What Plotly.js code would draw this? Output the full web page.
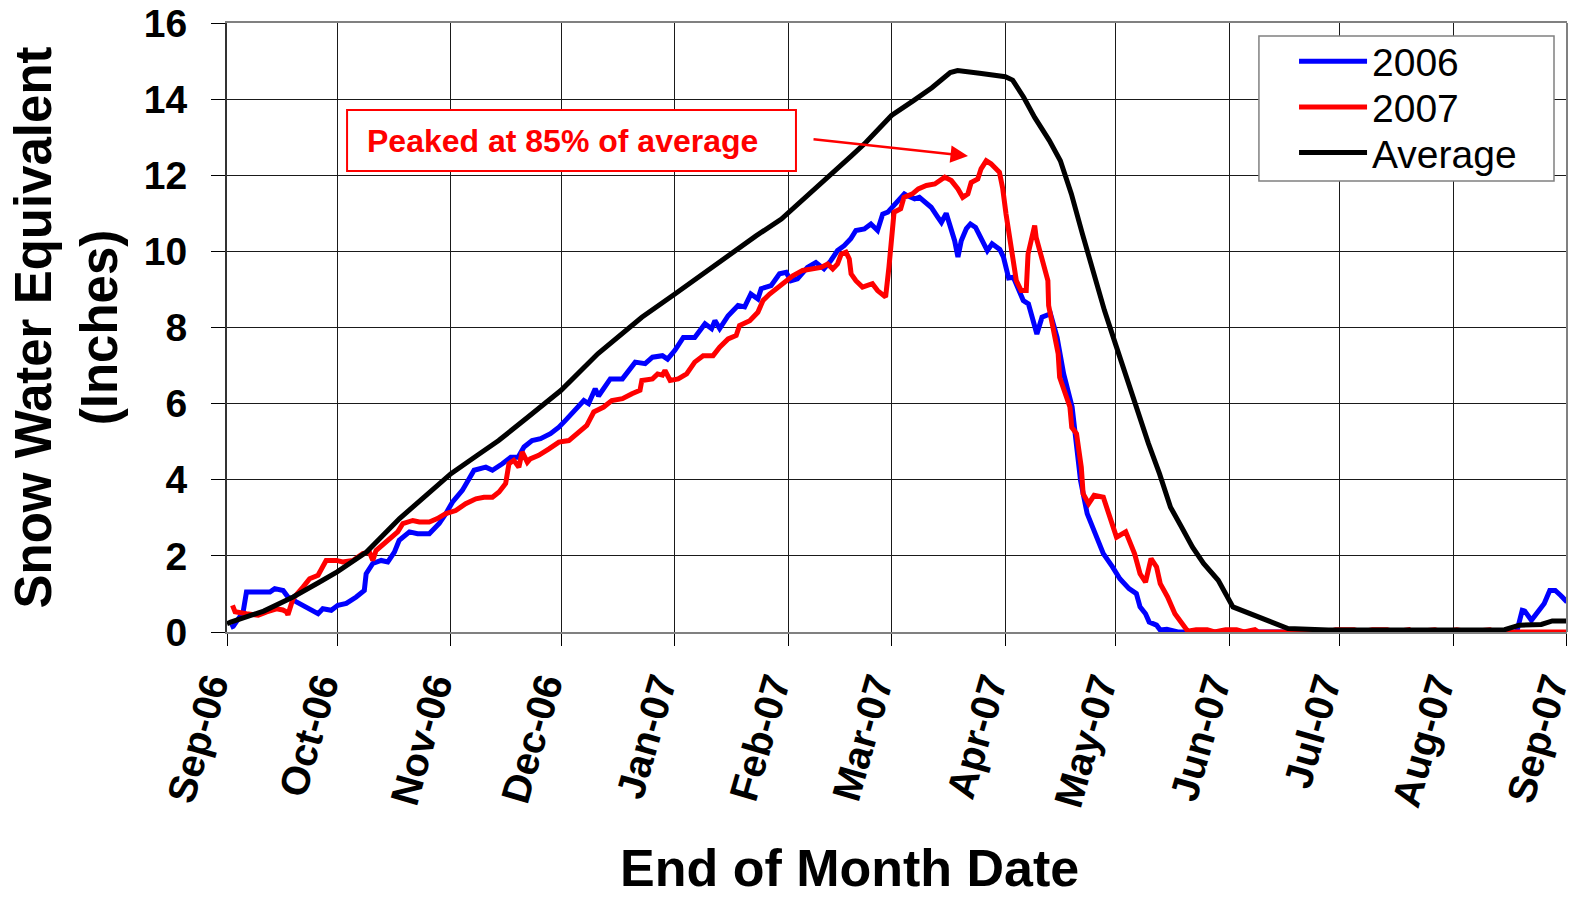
<!DOCTYPE html>
<html>
<head>
<meta charset="utf-8">
<script src="https://cdn.plot.ly/plotly-3.0.1.min.js"></script>
<style>html,body{margin:0;padding:0;background:#fff;}#chart{width:1576px;height:901px;}</style>
</head>
<body>
<div id="chart"></div>
<script>
// Season starts 1 Sep 2006; x values are days since that date.
const seasonStart = '2006-09-01';
const seasonEnd = '2007-09-01';

const avgDays = [0,1,10,18,25,30,38,47,54,61,68,74,82,91,101,113,122,130,137,144,151,158,165,170,174,181,187,192,197,199,205,212,214,217,220,224,227,230,233,236,239,242,245,248,251,254,257,260,263,266,270,274,280,286,289,300,320,340,348,352,358,361,365];
const avgVals = [0.22,0.26,0.55,0.92,1.3,1.58,2.1,2.98,3.57,4.16,4.63,5.03,5.65,6.35,7.31,8.27,8.88,9.44,9.93,10.4,10.85,11.45,12.03,12.5,12.86,13.57,13.96,14.3,14.7,14.75,14.68,14.59,14.5,14.05,13.52,12.91,12.38,11.51,10.46,9.41,8.45,7.57,6.69,5.82,4.95,4.16,3.28,2.76,2.23,1.8,1.36,0.66,0.44,0.22,0.09,0.05,0.05,0.05,0.06,0.18,0.2,0.29,0.29];

const y2006Days = [1,1.7,4.4,5.3,11.7,13,15.3,16.6,18.9,21.6,24.8,26.1,28.4,30.2,32.5,35.2,37.4,37.9,39.7,42,43.8,45.6,46.9,49.7,51.9,55.1,57.8,59.6,61.4,64.1,67.3,70.5,72.3,75,77.3,79.3,80.9,83.1,85.4,88.1,90.4,92.2,94.9,97.2,98.5,100.3,101.2,104.4,107.7,109.8,111.2,113.9,115.9,118.6,120,122,124.3,127.4,130.2,132,132.9,134.2,136.5,139.2,141,142.7,144.6,145.5,148.2,150.5,152.3,153.6,155.4,158.1,160.4,162.6,164.5,166.3,168.1,169.9,171.3,173.6,175.4,177.2,178.6,180,180.9,182.2,183.6,184.5,185.4,187.3,188.6,190.4,191.8,193.6,194.6,195.9,197.3,198.2,199.1,200,201.4,202.5,203.9,205.7,207.1,208.4,210.5,211.5,212.9,214.2,216.9,218.3,220.6,222,224.3,226.1,227.9,230.2,231.6,232.5,234.3,236.8,238.7,241.2,243.2,245.7,247.7,248.7,250.2,251.2,253.2,254.2,256,259,351.3,352.8,353.5,355.3,357.3,358.8,360.3,361.8,363.3,365];
const y2006Vals = [0.12,0.15,0.53,1.05,1.05,1.14,1.09,0.92,0.79,0.66,0.48,0.61,0.57,0.7,0.75,0.92,1.09,1.53,1.8,1.88,1.84,2.1,2.41,2.63,2.58,2.58,2.85,3.11,3.41,3.72,4.25,4.33,4.25,4.42,4.59,4.59,4.86,5.03,5.08,5.21,5.38,5.56,5.82,6.08,6.0,6.39,6.2,6.65,6.65,6.9,7.09,7.05,7.22,7.26,7.17,7.4,7.74,7.74,8.1,7.97,8.18,7.97,8.31,8.58,8.54,8.88,8.75,9.02,9.1,9.41,9.45,9.23,9.28,9.58,9.71,9.54,9.76,10.02,10.15,10.33,10.55,10.59,10.72,10.55,10.98,11.03,11.12,11.29,11.42,11.51,11.46,11.38,11.42,11.25,11.16,10.9,10.76,11.0,10.6,10.28,9.85,10.28,10.6,10.72,10.63,10.28,10.02,10.2,10.05,9.85,9.3,9.32,8.71,8.62,7.83,8.27,8.36,7.74,6.78,5.91,4.59,3.98,3.11,2.49,2.06,1.71,1.4,1.14,1.01,0.66,0.48,0.26,0.18,0.05,0.07,0,0,0.57,0.55,0.31,0.57,0.75,1.09,1.09,0.96,0.79];

const y2007Days = [1.5,2.2,5.3,8.5,10.8,13.5,15.2,16.2,16.6,18,20.7,22.5,24.8,26.1,27,29.8,31.5,34.3,37,38.8,39.7,40.6,43.3,46.5,47.9,50.6,52.4,55.1,57.3,59.6,62.3,65,67.8,70,72.3,74.1,75.9,76.8,78.1,79.5,80.4,81.8,82.6,84.9,87.7,90.4,93.1,95.8,98,99.9,102.6,104.8,107.7,110.3,112.5,113,115.9,117.3,118.6,119.3,120.7,122.9,125.2,127.4,129.7,132.4,134.2,136.5,138.7,139.6,142.4,144.6,146,147.8,151.4,154.1,156.8,159.5,161.8,163.6,165,166.3,167.3,168.6,169.5,170,171.3,173.1,175.8,177.2,179.4,180.3,181.2,181.7,183.5,184.4,186.7,188.3,190.5,192.8,195.5,197.3,199.1,200.4,201.8,202.7,204.5,205.4,206.8,208.1,210.4,211.3,212.2,213.6,215,216.3,217.7,218.2,219,220,220.4,223.6,223.8,225,226.4,226.8,229.6,230.1,231.4,232.7,233.2,234.7,236.2,238.7,241.2,242.3,244.8,247.2,248.7,250.2,251.7,253.2,254.2,256.2,258.2,260.2,261.7,264,267,269,272,275,277,280,281,300,302,307,309,312,316,318,322,323,329,331,335,338,344,345.5,365];
const y2007Vals = [0.7,0.53,0.48,0.44,0.53,0.61,0.58,0.53,0.45,0.88,1.18,1.4,1.49,1.71,1.88,1.88,1.84,1.88,2.06,2.1,1.88,2.14,2.36,2.63,2.85,2.93,2.89,2.89,2.98,3.11,3.19,3.37,3.5,3.54,3.54,3.68,3.9,4.42,4.51,4.33,4.73,4.46,4.55,4.64,4.81,4.99,5.03,5.25,5.43,5.78,5.91,6.08,6.13,6.26,6.35,6.61,6.65,6.78,6.75,6.87,6.61,6.65,6.78,7.09,7.26,7.26,7.48,7.7,7.79,8.05,8.18,8.4,8.71,8.88,9.15,9.36,9.5,9.54,9.58,9.67,9.54,9.67,9.93,9.98,9.8,9.41,9.23,9.06,9.15,8.97,8.8,9.58,10.46,11.03,11.12,11.42,11.51,11.64,11.73,11.77,11.95,11.86,11.64,11.42,11.51,11.81,11.9,12.17,12.38,12.3,12.08,11.65,10.98,10.11,9.23,8.97,8.97,9.93,10.24,10.68,10.37,9.23,8.58,8.01,7.31,6.69,5.91,5.38,5.21,4.33,3.63,3.37,3.59,3.54,2.76,2.49,2.63,2.06,1.53,1.31,1.93,1.71,1.27,0.92,0.48,0.22,0.02,0.06,0.06,0,0.06,0.06,0,0.06,0,0,0.06,0.06,0,0.06,0.06,0,0.06,0,0.06,0,0.06,0,0.06,0,0];

const seriesNames = ['2006', '2007', 'Average'];
const monthTicks = ['2006-09-01','2006-10-01','2006-11-01','2006-12-01','2007-01-01','2007-02-01','2007-03-01','2007-04-01','2007-05-01','2007-06-01','2007-07-01','2007-08-01','2007-08-31 22:00'];
const monthLabels = ['Sep-06','Oct-06','Nov-06','Dec-06','Jan-07','Feb-07','Mar-07','Apr-07','May-07','Jun-07','Jul-07','Aug-07','Sep-07'];
const yTicks = [0,2,4,6,8,10,12,14,16];
const xTitle = 'End of Month Date';
const yTitle = 'Snow Water Equivalent<br>(Inches)';
const noteText = 'Peaked at 85% of average';

function toDate(d) {
  const t = Date.UTC(2006, 8, 1) + d * 86400000;
  return new Date(t).toISOString().slice(0, 19).replace('T', ' ');
}

const FONT = 'Liberation Sans, Arial, Helvetica, sans-serif';

const traces = [
  {x: y2006Days.map(toDate), y: y2006Vals, name: seriesNames[0], type: 'scatter', mode: 'lines',
   line: {color: '#0000FF', width: 5}, legend: 'legend'},
  {x: y2007Days.map(toDate), y: y2007Vals, name: seriesNames[1], type: 'scatter', mode: 'lines',
   line: {color: '#FF0000', width: 5}, legend: 'legend2'},
  {x: avgDays.map(toDate), y: avgVals, name: seriesNames[2], type: 'scatter', mode: 'lines',
   line: {color: '#000000', width: 5}, legend: 'legend3'}
];

function legendAt(yc) {
  return {x: 0.7963, y: yc, xanchor: 'left', yanchor: 'middle',
    bgcolor: 'rgba(0,0,0,0)', borderwidth: 0,
    font: {family: FONT, size: 39, color: '#000'}, itemwidth: 68};
}

const layout = {
  width: 1576, height: 901,
  margin: {l: 227, r: 9, t: 23, b: 269},
  paper_bgcolor: '#ffffff', plot_bgcolor: '#ffffff',
  font: {family: FONT, color: '#000'},
  showlegend: true,
  legend: legendAt(0.9370),
  legend2: legendAt(0.8620),
  legend3: legendAt(0.7870),
  xaxis: {
    type: 'date', range: [seasonStart, seasonEnd],
    tickmode: 'array', tickvals: monthTicks, ticktext: monthLabels,
    tickangle: -74, tickfont: {family: FONT, size: 40, weight: 'bold', color: '#000'},
    ticklabelshift: -17, ticklabeloverflow: 'allow',
    ticks: 'outside', ticklen: 12, tickwidth: 1, tickcolor: '#000',
    showgrid: true, gridcolor: '#1a1a1a', gridwidth: 1,
    showline: true, linecolor: '#808080', linewidth: 2, mirror: true,
    zeroline: false, fixedrange: true
  },
  yaxis: {
    range: [0, 16], tickmode: 'array', tickvals: yTicks,
    tickfont: {family: FONT, size: 39, weight: 'bold', color: '#000'},
    ticks: 'outside', ticklen: 14, tickwidth: 1, tickcolor: '#000',
    ticklabelstandoff: 16,
    showgrid: true, gridcolor: '#1a1a1a', gridwidth: 1,
    showline: true, linecolor: '#333333', linewidth: 2,
    zeroline: false, fixedrange: true,
    title: {text: yTitle, font: {family: FONT, size: 51, weight: 'bold', color: '#000'}, standoff: 10}
  },
  shapes: [
    {type: 'line', xref: 'paper', yref: 'paper', x0: 1, x1: 1, y0: 0, y1: 1,
     line: {color: '#808080', width: 2}},
    {type: 'rect', xref: 'paper', yref: 'paper', x0: 0.7701, x1: 0.9903, y0: 0.7406, y1: 0.9787,
     fillcolor: '#ffffff', line: {color: '#808080', width: 1.5}, layer: 'above'},
    {type: 'rect', xref: 'paper', yref: 'paper', x0: 0.0896, x1: 0.4246, y0: 0.7570, y1: 0.8571,
     fillcolor: '#ffffff', line: {color: '#FF0000', width: 2}, layer: 'above'}
  ],
  annotations: [
    {xref: 'paper', yref: 'paper', x: 0.2507, y: 0.807, xanchor: 'center', yanchor: 'middle',
     text: noteText, showarrow: false,
     font: {family: FONT, size: 32, weight: 'bold', color: '#FF0000'}},
    {xref: 'paper', yref: 'paper', x: 0.5530, y: 0.7816, text: '', showarrow: true,
     axref: 'pixel', ayref: 'pixel', ax: -156, ay: -17,
     arrowcolor: '#FF0000', arrowwidth: 2.5, arrowhead: 2, arrowsize: 1.4, standoff: 0},
    {xref: 'paper', yref: 'paper', x: 0.4642, y: -0.3875, xanchor: 'center', yanchor: 'middle',
     text: xTitle, showarrow: false,
     font: {family: FONT, size: 52, weight: 'bold', color: '#000'}}
  ]
};

Plotly.newPlot('chart', traces, layout, {displayModeBar: false, staticPlot: true});
</script>
</body>
</html>
